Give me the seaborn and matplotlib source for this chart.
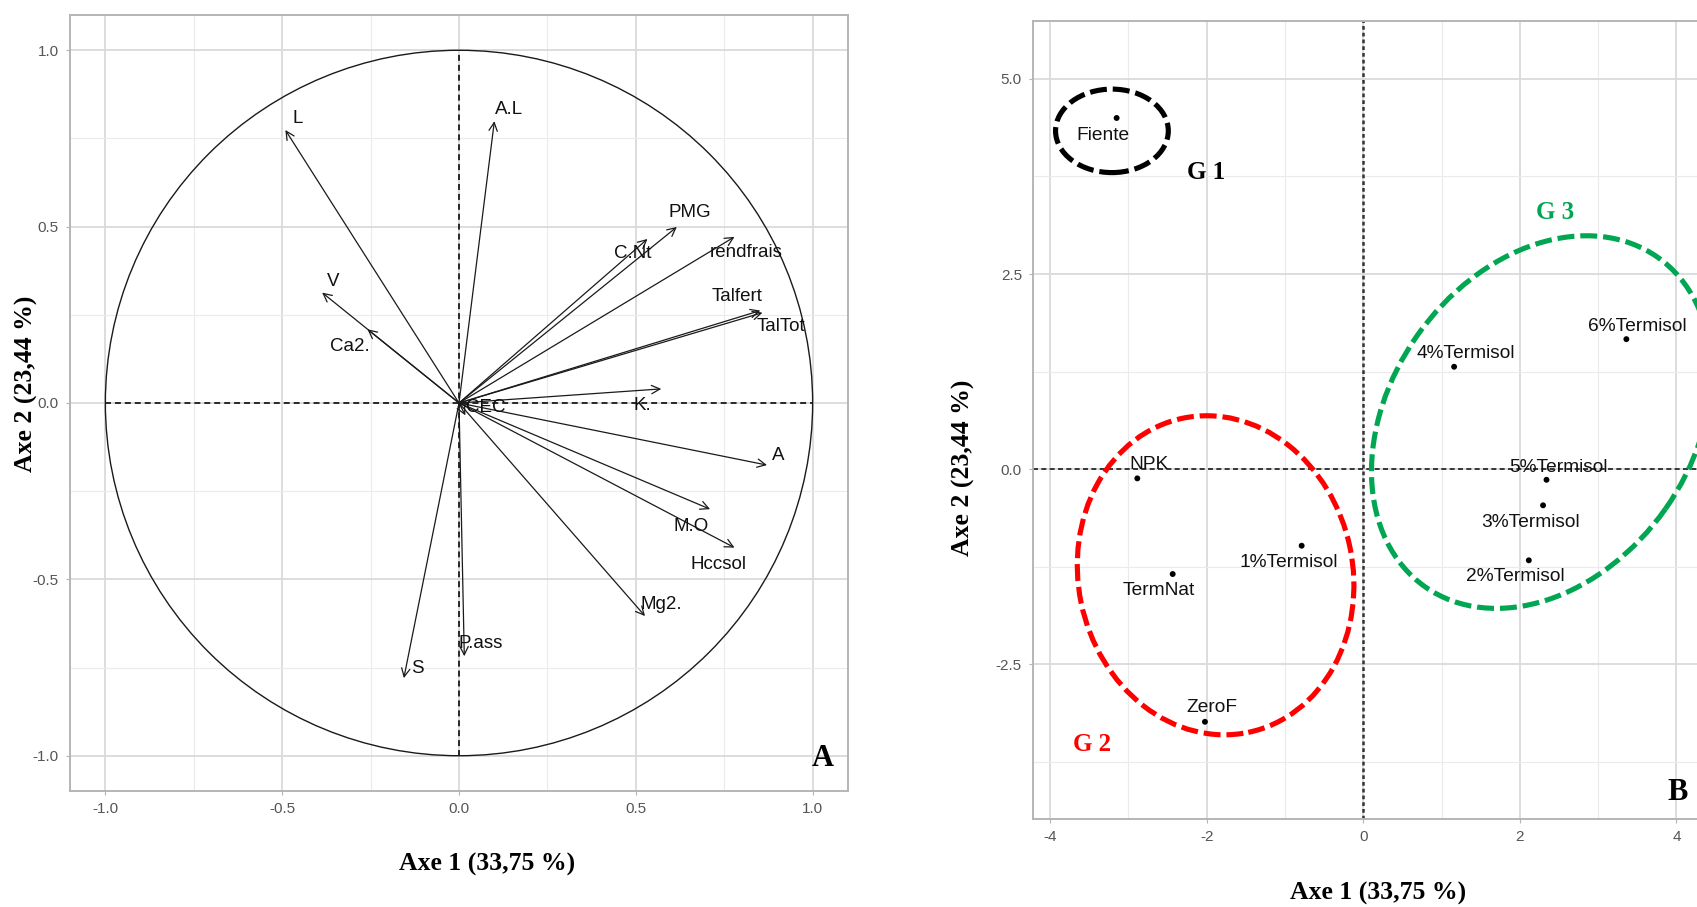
import numpy as np
import pandas as pd
import matplotlib
matplotlib.use('Agg')
import matplotlib.pyplot as plt
from matplotlib.patches import Circle, Ellipse
from matplotlib.ticker import FixedLocator
import seaborn as sns

# ---------------- Data: panel A (variables, correlation circle) ----------------
var_names = ['L', 'A.L', 'PMG', 'C.Nt', 'rendfrais', 'Talfert', 'TalTot', 'V', 'Ca2.',
             'K.', 'CEC', 'A', 'M.O', 'Hccsol', 'Mg2.', 'S', 'P.ass']
var_dim1 = [-0.491, 0.100, 0.616, 0.533, 0.779, 0.852, 0.858, -0.387, -0.259,
            0.572, 0.018, 0.871, 0.710, 0.779, 0.526, -0.156, 0.015]
var_dim2 = [0.774, 0.799, 0.499, 0.465, 0.471, 0.262, 0.256, 0.313, 0.209,
            0.040, -0.035, -0.176, -0.301, -0.410, -0.604, -0.780, -0.718]

# ---------------- Data: panel B (individuals) ----------------
ind_names = ['Fiente', 'NPK', 'TermNat', 'ZeroF', '1%Termisol', '2%Termisol',
             '3%Termisol', '4%Termisol', '5%Termisol', '6%Termisol']
ind_dim1 = [-3.15, -2.886, -2.434, -2.022, -0.787, 2.114, 2.296, 1.16, 2.34, 3.36]
ind_dim2 = [4.50, -0.12, -1.346, -3.24, -0.983, -1.17, -0.465, 1.311, -0.138, 1.665]

# groups (ellipses)
group_names = ['G 1', 'G 2', 'G 3']
ell_cx = [-3.21, -1.886, 2.275]
ell_cy = [4.335, -1.362, 0.602]
ell_w = [1.44, 3.506, 5.164]
ell_h = [1.07, 4.113, 3.871]
ell_angle = [0.0, 11.7, 54.95]
group_label_x = [-2.01, -3.47, 2.45]
group_label_y = [3.80, -3.53, 3.286]

axis1_title = 'Axe 1 (33,75 %)'
axis2_title = 'Axe 2 (23,44 %)'

# ---------------- layout / style (not data) ----------------
var_lab_off = [(12, -11), (15, -12), (13, -14), (-15, 15), (12, 16), (-23, -14), (19, 14),
               (11, -11), (-18, 17), (-19, 17), (20, -8), (11, -10), (-19, 17), (-16, 17),
               (16, -12), (14, -10), (16, -13)]
ind_lab_off = [(-14, 18), (12, -14), (-14, 16), (7, -14), (-13, 17), (-13, 16), (-13, 17),
               (12, -13), (12, -12), (11, -13)]
group_colors = ['black', '#FF0000', '#00A651']

sns.set_theme(style='white')
plt.rcParams['font.family'] = ['Liberation Sans', 'DejaVu Sans']
plt.rcParams['axes.unicode_minus'] = False

W, H = 1697, 907
fig = plt.figure(figsize=(W / 100, H / 100), dpi=100)
fig.patch.set_facecolor('white')

def fax(l, t, r, b):
    return [l / W, 1 - b / H, (r - l) / W, (b - t) / H]

axA = fig.add_axes(fax(70, 15, 848, 791))
axB = fig.add_axes(fax(1033, 20.7, 1723, 819.3))

tick_col = '#555555'
def style_axes(ax, major_x, minor_x, major_y, minor_y, xfmt, yfmt):
    ax.set_facecolor('white')
    ax.xaxis.set_major_locator(FixedLocator(major_x))
    ax.xaxis.set_minor_locator(FixedLocator(minor_x))
    ax.yaxis.set_major_locator(FixedLocator(major_y))
    ax.yaxis.set_minor_locator(FixedLocator(minor_y))
    ax.set_xticklabels([xfmt(v) for v in major_x])
    ax.set_yticklabels([yfmt(v) for v in major_y])
    ax.grid(which='major', color='#DADADA', lw=1.3, zorder=0)
    ax.grid(which='minor', color='#EBEBEB', lw=0.8, zorder=0)
    ax.set_axisbelow(True)
    for s in ax.spines.values():
        s.set_color('#B5B5B5')
        s.set_linewidth(1.4)
    ax.tick_params(which='major', length=3, width=0.8, color='#B5B5B5',
                   labelsize=11, labelcolor=tick_col, pad=5, bottom=True, left=True)
    ax.tick_params(which='minor', length=0)
    ax.set_xlabel('')
    ax.set_ylabel('')

# ---------------- Panel A ----------------
axA.set_xlim(-1.1, 1.1)
axA.set_ylim(-1.1, 1.1)
style_axes(axA, [-1.0, -0.5, 0.0, 0.5, 1.0], [-0.75, -0.25, 0.25, 0.75],
           [-1.0, -0.5, 0.0, 0.5, 1.0], [-0.75, -0.25, 0.25, 0.75],
           lambda v: f'{v:.1f}', lambda v: f'{v:.1f}')
axA.add_patch(Circle((0, 0), 1.0, fill=False, ec='#1a1a1a', lw=1.0, zorder=2))
axA.plot([-1, 1], [0, 0], color='#1a1a1a', lw=1.3, ls=(0, (3.3, 2.2)), zorder=2)
axA.plot([0, 0], [-1, 1], color='#1a1a1a', lw=1.3, ls=(0, (3.3, 2.2)), zorder=2)

dfA = pd.DataFrame({'name': var_names, 'Dim1': var_dim1, 'Dim2': var_dim2})
for (name, x, y), (dx, dy) in zip(dfA[['name', 'Dim1', 'Dim2']].values, var_lab_off):
    axA.annotate('', xy=(x, y), xytext=(0, 0),
                 arrowprops=dict(arrowstyle='->,head_length=0.6,head_width=0.3',
                                 lw=0.9, color='#1a1a1a', shrinkA=0, shrinkB=0,
                                 mutation_scale=10), zorder=3)
    axA.annotate(name, xy=(x, y), xytext=(dx, -dy), textcoords='offset pixels',
                 ha='center', va='center', fontsize=13.5, color='#111111', zorder=4)

# ---------------- Panel B ----------------
axB.set_xlim(-4.218, 4.594)
axB.set_ylim(-4.49, 5.747)
style_axes(axB, [-4, -2, 0, 2, 4], [-3, -1, 1, 3],
           [-2.5, 0.0, 2.5, 5.0], [-3.75, -1.25, 1.25, 3.75],
           lambda v: f'{v:d}', lambda v: f'{v:.1f}')
axB.axhline(0, color='#1a1a1a', lw=1.2, ls=(0, (3, 2)), zorder=2)
axB.axvline(0, color='#333333', lw=1.8, ls=(0, (1.5, 1.2)), zorder=2)

dfB = pd.DataFrame({'name': ind_names, 'Dim1': ind_dim1, 'Dim2': ind_dim2})
sns.scatterplot(data=dfB, x='Dim1', y='Dim2', ax=axB, color='black', s=18,
                edgecolor='none', legend=False, zorder=4)
for (name, x, y), (dx, dy) in zip(dfB[['name', 'Dim1', 'Dim2']].values, ind_lab_off):
    axB.annotate(name, xy=(x, y), xytext=(dx, -dy), textcoords='offset pixels',
                 ha='center', va='center', fontsize=13.8, color='#111111', zorder=5)
axB.set_xlabel('')
axB.set_ylabel('')

for g, cx, cy, w, h, ang, col, lx, ly in zip(group_names, ell_cx, ell_cy, ell_w, ell_h,
                                             ell_angle, group_colors, group_label_x, group_label_y):
    axB.add_patch(Ellipse((cx, cy), w, h, angle=ang, fill=False, ec=col, lw=3.7,
                          ls=(0, (3.3, 1.15)), zorder=3))
    axB.text(lx, ly, g, color=col, fontsize=18, fontweight='bold',
             family='Liberation Serif', ha='center', va='center', zorder=5)

# ---------------- Titles / panel letters ----------------
serif = dict(family='Liberation Serif', fontweight='bold', color='black')
fig.text(487 / W, 1 - 864 / H, axis1_title, ha='center', va='center', fontsize=18.5, **serif)
fig.text(1378 / W, 1 - 893 / H, axis1_title, ha='center', va='center', fontsize=18.5, **serif)
fig.text(26 / W, 1 - 384 / H, axis2_title, ha='center', va='center', rotation=90,
         fontsize=18.5, **serif)
fig.text(963 / W, 1 - 468 / H, axis2_title, ha='center', va='center', rotation=90,
         fontsize=18.5, **serif)
fig.text(822.5 / W, 1 - 758 / H, 'A', ha='center', va='center', fontsize=22, **serif)
fig.text(1667 / W, 1 - 793 / H, 'B', ha='left', va='center', fontsize=22, **serif)

fig.savefig('out.png', dpi=100, facecolor='white')
